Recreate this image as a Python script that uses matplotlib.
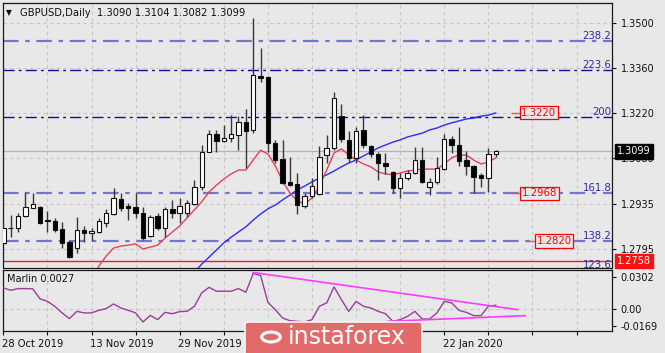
import numpy as np
import matplotlib
matplotlib.use("Agg")
import matplotlib.pyplot as plt
from matplotlib.patches import FancyBboxPatch, Circle
import matplotlib.transforms as mtransforms

nan = np.nan

# ---------------- data ----------------
opens = [1.2814, 1.2862, 1.2861, 1.2898, 1.2924, 1.2926, 1.2884, 1.2882, 1.2857, 1.2817,
         1.2798, 1.2854, 1.2845, 1.2848, 1.2876, 1.2904, 1.2951, 1.2929, 1.2926, 1.2907,
         1.2835, 1.2898, 1.2861, 1.2920, 1.2907, 1.2907, 1.2935, 1.2988, 1.3097, 1.3153,
         1.3132, 1.3141, 1.3150, 1.3191, 1.3166, 1.3334, 1.3331, 1.3125, 1.3075, 1.3004,
         1.2998, 1.2929, 1.2960, 1.2966, 1.3088, 1.3110, 1.3209, 1.3135, 1.3079, 1.3166,
         1.3116, 1.3091, 1.3063, 1.3035, 1.2985, 1.3016, 1.3032, 1.3072, 1.2988, 1.3004,
         1.3044, 1.3138, 1.3119, 1.3072, 1.3054, 1.3026, 1.3016, 1.3090]
highs = [1.2876, 1.2901, 1.2907, 1.2973, 1.2970, 1.2929, 1.2913, 1.2892, 1.2879, 1.2823,
         1.2895, 1.2867, 1.2861, 1.2892, 1.2920, 1.2985, 1.2970, 1.2938, 1.2970, 1.2926,
         1.2901, 1.2907, 1.2926, 1.2948, 1.2954, 1.2948, 1.3010, 1.3119, 1.3166, 1.3166,
         1.3181, 1.3212, 1.3209, 1.3231, 1.3515, 1.3421, 1.3334, 1.3135, 1.3135, 1.3082,
         1.3032, 1.2970, 1.3016, 1.3116, 1.3150, 1.3284, 1.3247, 1.3163, 1.3175, 1.3212,
         1.3119, 1.3097, 1.3094, 1.3038, 1.3032, 1.3041, 1.3113, 1.3113, 1.3016, 1.3082,
         1.3153, 1.3147, 1.3175, 1.3100, 1.3057, 1.3032, 1.3110, 1.3104]
lows = [1.2811, 1.2832, 1.2848, 1.2895, 1.2923, 1.2873, 1.2848, 1.2848, 1.2798, 1.2767,
        1.2783, 1.2817, 1.2820, 1.2845, 1.2864, 1.2901, 1.2913, 1.2885, 1.2892, 1.2823,
        1.2832, 1.2854, 1.2832, 1.2892, 1.2876, 1.2895, 1.2932, 1.2979, 1.3097, 1.3097,
        1.3128, 1.3128, 1.3103, 1.3047, 1.3157, 1.3315, 1.3097, 1.3063, 1.2998, 1.2991,
        1.2904, 1.2923, 1.2954, 1.2963, 1.3063, 1.3103, 1.3128, 1.3066, 1.3063, 1.3110,
        1.3082, 1.3010, 1.3029, 1.2970, 1.2954, 1.3010, 1.3029, 1.3001, 1.2963, 1.2998,
        1.3041, 1.3094, 1.3054, 1.3026, 1.2970, 1.2988, 1.2973, 1.3082]
closes = [1.2860, 1.2859, 1.2898, 1.2926, 1.2934, 1.2876, 1.2881, 1.2854, 1.2814, 1.2770,
          1.2854, 1.2845, 1.2851, 1.2882, 1.2907, 1.2954, 1.2923, 1.2924, 1.2907, 1.2829,
          1.2895, 1.2861, 1.2920, 1.2907, 1.2929, 1.2938, 1.2988, 1.3097, 1.3153, 1.3132,
          1.3141, 1.3153, 1.3191, 1.3163, 1.3337, 1.3328, 1.3125, 1.3072, 1.3001, 1.2994,
          1.2932, 1.2960, 1.2991, 1.3082, 1.3110, 1.3265, 1.3138, 1.3079, 1.3163, 1.3119,
          1.3091, 1.3063, 1.3055, 1.2985, 1.3016, 1.3032, 1.3072, 1.3004, 1.3004, 1.3047,
          1.3138, 1.3119, 1.3069, 1.3054, 1.3019, 1.3016, 1.3091, 1.3099]

ma_red = [nan] * 12 + [1.2699, 1.2742, 1.2773, 1.2798, 1.2804, 1.2807, 1.2811, 1.2795, 1.2801, 1.2807,
                       1.2829, 1.2848, 1.2867, 1.2892, 1.2917, 1.2942, 1.2973, 1.2994, 1.3013, 1.3029,
                       1.3041, 1.3041, 1.3072, 1.3103, 1.3091, 1.3054, 1.3007, 1.2969, 1.2945, 1.2935,
                       1.2954, 1.2991, 1.3041, 1.3094, 1.3107, 1.3088, 1.3072, 1.3060, 1.3051, 1.3035,
                       1.3029, 1.3026, 1.3032, 1.3038, 1.3041, 1.3044, 1.3044, 1.3044, 1.3060, 1.3079,
                       1.3088, 1.3088, 1.3072, 1.3060, 1.3066, 1.3079]
ma_blue = [nan] * 26 + [1.2723, 1.2748, 1.2770, 1.2792, 1.2814, 1.2832, 1.2848, 1.2864, 1.2885, 1.2904,
                        1.2920, 1.2932, 1.2948, 1.2963, 1.2979, 1.2991, 1.3004, 1.3016, 1.3026, 1.3038,
                        1.3051, 1.3063, 1.3072, 1.3085, 1.3097, 1.3110, 1.3119, 1.3128, 1.3135, 1.3144,
                        1.3150, 1.3156, 1.3166, 1.3172, 1.3181, 1.3188, 1.3194, 1.3200, 1.3203, 1.3209,
                        1.3212, 1.3219]

marlin = [0.0161, 0.0142, 0.0155, 0.0155, 0.0153, 0.0076, 0.0057, 0.0019, -0.0032, -0.0076,
          -0.0020, -0.0032, -0.0032, -0.0012, 0.0001, 0.0037, 0.0006, -0.0012, -0.0032, -0.0102,
          -0.0051, -0.0084, -0.0028, -0.0038, -0.0022, -0.0020, 0.0019, 0.0122, 0.0165, 0.0135,
          0.0135, 0.0135, 0.0155, 0.0127, 0.0271, 0.0256, 0.0050, -0.0007, -0.0071, -0.0092,
          -0.0097, -0.0102, -0.0084, 0.0019, 0.0045, 0.0168, 0.0070, -0.0020, 0.0057, 0.0019,
          0.0006, -0.0020, -0.0038, -0.0097, -0.0084, -0.0059, -0.0020, -0.0079, -0.0079, -0.0032,
          0.0057, 0.0045, -0.0012, -0.0028, -0.0053, -0.0053, 0.0019, 0.0027]
marlin_upper_x = [34, 70.0]
marlin_upper_y = [0.0279, -0.0007]
marlin_lower_x = [52.3, 71.0]
marlin_lower_y = [-0.0097, -0.0053]

fib_names = ["238.2", "223.6", "200", "161.8", "138.2", "123.6"]
fib_prices = [1.3443, 1.3352, 1.3206, 1.2969, 1.2821, 1.2729]
fib_strong = [False, True, True, False, False, False]

price_ticks = [1.3500, 1.3360, 1.3220, 1.3080, 1.2935, 1.2795]
marker_labels = ["1.3220", "1.2968", "1.2820"]
marker_prices = [1.3220, 1.2968, 1.2820]
marker_bars = [70.4, 70.5, 72.5]

# dates visible in the reference (the others are hidden by the watermark)
date_bars = [0, 12, 24, 60]
date_labels = ["28 Oct 2019", "13 Nov 2019", "29 Nov 2019", "22 Jan 2020"]

symbol_title = "GBPUSD,Daily  1.3090 1.3104 1.3082 1.3099"
last_price = 1.3099
red_level = 1.2758
marlin_ticks_pos = [0.0248, 0.0, -0.0133]
marlin_tick_labels = ["0.0302", "0.00", "-0.0169"]

# ---------------- figure ----------------
W, H = 665, 353
BG = "#e8e8e8"
fig = plt.figure(figsize=(W / 100, H / 100), dpi=100, facecolor=BG)


def fx(px):
    return px / W


def fy(py):
    return 1 - py / H


L, R = 2.5, 612.3
ax = fig.add_axes([fx(L), fy(267.5), fx(R) - fx(L), fy(2.7) - fy(267.5)], facecolor=BG)
ax2 = fig.add_axes([fx(L), fy(330.7), fx(R) - fx(L), fy(269.5) - fy(330.7)], facecolor=BG)

x = np.arange(len(opens))
xlim = (-0.11, 82.86)

# grid
for a in (ax, ax2):
    a.set_xlim(*xlim)
    a.set_xticks(np.arange(0, 83, 6))
    a.grid(True, color="#c6c6c6", linestyle=(0, (3, 3)), linewidth=0.8)
    for s in a.spines.values():
        s.set_color("#1a1a1a")
        s.set_linewidth(0.9)
    a.set_axisbelow(True)

ax.set_ylim(1.27374, 1.35623)
ax.yaxis.tick_right()
ax.set_yticks(price_ticks)
ax.set_yticklabels(["%.4f" % v for v in price_ticks])
ax.tick_params(axis="y", direction="out", length=3, labelsize=7, pad=3, colors="#111111")
ax.tick_params(axis="x", length=0, labelbottom=False)

# fibonacci levels
for name, p, strong in zip(fib_names, fib_prices, fib_strong):
    if strong:
        ax.axhline(p, color="#101098", lw=1.0, linestyle=(0, (8, 3, 2, 3)), zorder=2)
    else:
        ax.axhline(p, color="#7676c6", lw=1.6, linestyle=(0, (7, 3, 2, 3)), zorder=2)
    ax.text(0.9985, p, name, transform=mtransforms.blended_transform_factory(ax.transAxes, ax.transData),
            ha="right", va="bottom", fontsize=7.3, color="#2a2aa0", zorder=3, clip_on=True)

# current price line and red level
ax.axhline(last_price, color="#b4b4b4", lw=0.9, zorder=1.5)
ax.axhline(red_level, color="#ff1a1a", lw=1.0, zorder=2)

# moving averages
ax.plot(x, ma_blue, color="#2b2bff", lw=1.0, zorder=3)
ax.plot(x, ma_red, color="#e8405c", lw=1.0, zorder=3)

# candles
o = np.array(opens); c = np.array(closes)
ax.vlines(x, lows, highs, color="#383838", lw=1.0, zorder=4)
bottoms = np.minimum(o, c)
heights = np.maximum(np.abs(c - o), 0.00004)
colors = ["white" if cc >= oo else "black" for oo, cc in zip(o, c)]
ax.bar(x, heights, bottom=bottoms, width=0.6, color=colors, edgecolor="#101010", linewidth=0.8, zorder=5)

# red price markers
for lab, p, b in zip(marker_labels, marker_prices, marker_bars):
    ax.plot([b - 1.25, b - 0.05], [p, p], color="#ff5050", lw=1.0, zorder=6)
    ax.text(b + 0.05, p, lab, ha="left", va="center", fontsize=7.3, color="#ff0000", zorder=7,
            bbox=dict(boxstyle="square,pad=0.15", facecolor=BG, edgecolor="#ff0000", linewidth=0.9))

# right side boxes
bt = mtransforms.blended_transform_factory(ax.transAxes, ax.transData)
ax.text(1.0075, last_price, "%.4f" % last_price, transform=bt, ha="left", va="center", fontsize=7,
        color="white", clip_on=False, zorder=10,
        bbox=dict(boxstyle="square,pad=0.22", facecolor="#050505", edgecolor="#050505"))
ax.text(1.0075, red_level, "%.4f" % red_level, transform=bt, ha="left", va="center", fontsize=7,
        color="white", clip_on=False, zorder=10,
        bbox=dict(boxstyle="square,pad=0.22", facecolor="#ff1010", edgecolor="#ff1010"))

# title
fig.text(fx(5.5), fy(12.7), "\u25BC", fontsize=5.5, color="#111111", va="center", ha="left")
fig.text(fx(19.5), fy(12.7), symbol_title, fontsize=7.2, color="#111111", va="center", ha="left")

# ---------------- indicator ----------------
ax2.set_ylim(-0.0169, 0.0302)
ax2.plot(x, marlin, color="#9b3d9b", lw=1.0, zorder=3)
ax2.plot(marlin_upper_x, marlin_upper_y, color="#ff3cff", lw=1.2, zorder=4)
ax2.plot(marlin_lower_x, marlin_lower_y, color="#ff3cff", lw=1.2, zorder=4)
ax2.yaxis.tick_right()
ax2.set_yticks(marlin_ticks_pos)
ax2.set_yticklabels(marlin_tick_labels)
ax2.yaxis.grid(False)
ax2.axhline(0.0, color="#c6c6c6", linestyle=(0, (3, 3)), lw=0.8, zorder=1)
ax2.tick_params(axis="y", direction="out", length=3, labelsize=7, pad=3, colors="#111111")
ax2.text(0.007, 0.84, "Marlin %.4f" % marlin[-1], transform=ax2.transAxes, fontsize=7,
         color="#111111", va="center", ha="left")

xt = list(np.arange(0, 83, 6))
xl = []
for t in xt:
    xl.append(date_labels[date_bars.index(t)] if t in date_bars else "")
ax2.set_xticklabels(xl)
ax2.tick_params(axis="x", direction="out", length=3, labelsize=7.2, pad=3, colors="#111111")
offset = mtransforms.ScaledTranslation(-1.5 / 100, 0, fig.dpi_scale_trans)
for lbl in ax2.get_xticklabels():
    lbl.set_ha("left")
    lbl.set_transform(lbl.get_transform() + offset)

# ---------------- watermark ----------------
wm = FancyBboxPatch((fx(245), fy(356)), fx(422) - fx(245), fy(322) - fy(356),
                    boxstyle="round,pad=0,rounding_size=0.006", transform=fig.transFigure,
                    facecolor="#e36a6a", edgecolor="#f6f6f6", linewidth=1.2, zorder=20)
fig.patches.append(wm)
fig.patches.append(Circle((fx(271), fy(337)), 0.014, transform=fig.transFigure,
                          facecolor="none", edgecolor="white", linewidth=2.2, zorder=21))
fig.text(fx(288), fy(337), "instaforex", fontsize=17, color="white", va="center", ha="left", zorder=22)

fig.savefig("out.png", dpi=100, facecolor=BG)
